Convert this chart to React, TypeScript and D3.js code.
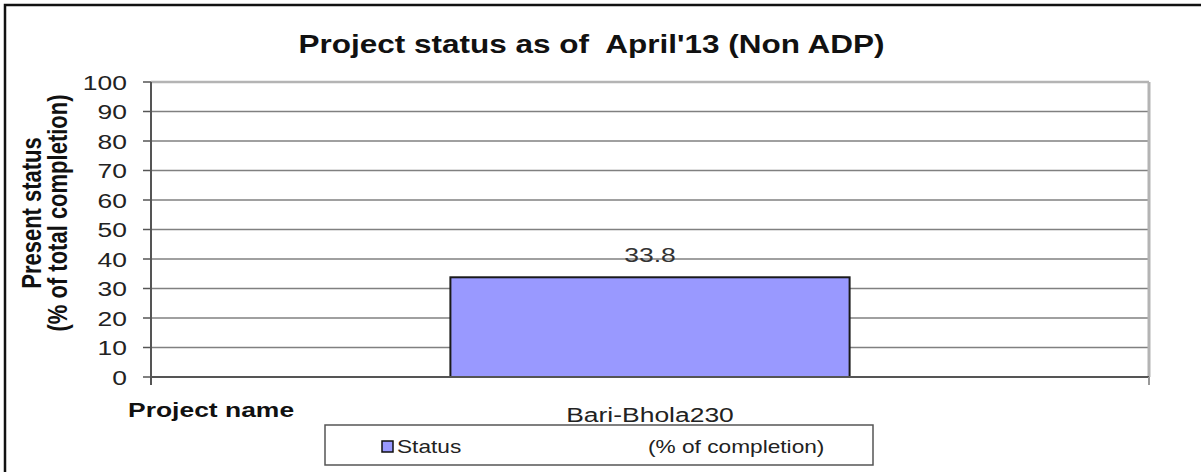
import React from "react";
import * as d3 from "d3";

const categories = ["Bari-Bhola230"];
const statusValues = [33.8];
const yTicks = [0, 10, 20, 30, 40, 50, 60, 70, 80, 90, 100];
const titleText = "Project status as of  April'13 (Non ADP)";
const yTitleLines = ["Present status", "(% of total completion)"];
const xTitle = "Project name";
const legendLabel = "Status";
const legendLabel2 = "(% of completion)";

const W = 1201;
const H = 472;
const SX = 1.26; // horizontal stretch of the original picture
const FONT = "'Liberation Sans', Arial, sans-serif";

const plot = { left: 151, right: 1149, top: 82, bottom: 377 };

export default function App() {
  const y = d3.scaleLinear().domain([0, 100]).range([plot.bottom, plot.top]);
  const x = d3
    .scaleBand<string>()
    .domain(categories)
    .range([plot.left, plot.right])
    .paddingInner(0)
    .paddingOuter(0.75);

  const st = (tx: number, ty: number, extra = "") =>
    `translate(${tx},${ty}) scale(${SX},1)${extra}`;

  return (
    <svg
      width={W}
      height={H}
      style={{ position: "absolute", left: 0, top: 0, background: "#fff" }}
      fontFamily={FONT}
    >
      <rect x={0} y={0} width={W} height={H} fill="#fff" />
      {/* outer frame */}
      <rect x={5} y={5} width={W + 20} height={H + 20} fill="none" stroke="#111" strokeWidth={2.5} />

      {/* title */}
      <text
        transform={st(591.5, 53)}
        textAnchor="middle"
        fontSize={25}
        fontWeight="bold"
        fill="#111"
        style={{ whiteSpace: "pre" }}
      >
        {titleText}
      </text>

      {/* gridlines */}
      {yTicks
        .filter((t) => t !== 0 && t !== 100)
        .map((t) => (
          <line
            key={"g" + t}
            x1={plot.left}
            x2={plot.right}
            y1={y(t)}
            y2={y(t)}
            stroke="#808080"
            strokeWidth={1.5}
          />
        ))}
      {/* plot area border (top/right) */}
      <line x1={plot.left} x2={plot.right} y1={y(100)} y2={y(100)} stroke="#b4b4b4" strokeWidth={2.5} />
      <line x1={plot.right} x2={plot.right} y1={plot.top} y2={plot.bottom} stroke="#b4b4b4" strokeWidth={3} />

      {/* bars */}
      {categories.map((c, i) => (
        <rect
          key={c}
          x={x(c)!}
          y={y(statusValues[i])}
          width={x.bandwidth()}
          height={plot.bottom - y(statusValues[i])}
          fill="#9999ff"
          stroke="#1a1a1a"
          strokeWidth={2}
        />
      ))}

      {/* value labels */}
      {categories.map((c, i) => (
        <text
          key={"v" + c}
          transform={st(x(c)! + x.bandwidth() / 2, y(statusValues[i]) - 15)}
          textAnchor="middle"
          fontSize={21}
          fill="#333"
        >
          {statusValues[i]}
        </text>
      ))}

      {/* y axis */}
      <line x1={plot.left} x2={plot.left} y1={plot.top} y2={plot.bottom + 8} stroke="#555" strokeWidth={2} />
      {yTicks.map((t) => (
        <g key={"t" + t}>
          <line x1={plot.left - 8} x2={plot.left} y1={y(t)} y2={y(t)} stroke="#555" strokeWidth={1.5} />
          <text transform={st(127, y(t) + 7.5)} textAnchor="end" fontSize={21} fill="#222">
            {t}
          </text>
        </g>
      ))}
      {/* x axis */}
      <line x1={plot.left} x2={plot.right} y1={plot.bottom} y2={plot.bottom} stroke="#555" strokeWidth={2} />
      <line x1={plot.right} x2={plot.right} y1={plot.bottom} y2={plot.bottom + 8} stroke="#999" strokeWidth={2} />

      {/* category labels */}
      {categories.map((c) => (
        <text
          key={"c" + c}
          transform={st(x(c)! + x.bandwidth() / 2, 422)}
          textAnchor="middle"
          fontSize={21}
          fill="#222"
        >
          {c}
        </text>
      ))}

      {/* axis titles */}
      <text transform={st(128, 417)} fontSize={21} fontWeight="bold" fill="#111">
        {xTitle}
      </text>
      {yTitleLines.map((l, i) => (
        <text
          key={l}
          transform={st(41 + i * 26, 213, " rotate(-90)")}
          textAnchor="middle"
          fontSize={22}
          fontWeight="bold"
          fill="#111"
        >
          {l}
        </text>
      ))}

      {/* legend */}
      <rect x={325} y={425} width={548} height={40} fill="#fff" stroke="#555" strokeWidth={1.5} />
      <rect x={382} y={441} width={11} height={11} fill="#9999ff" stroke="#111" strokeWidth={1.5} />
      <text transform={st(397, 453)} fontSize={18} fill="#222">
        {legendLabel}
      </text>
      <text transform={st(648, 453)} fontSize={18} fill="#222">
        {legendLabel2}
      </text>
    </svg>
  );
}
